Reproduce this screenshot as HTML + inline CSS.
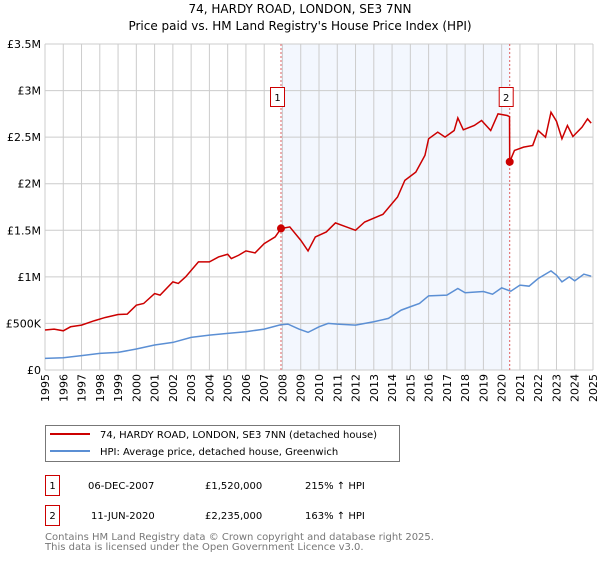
<!DOCTYPE html>
<html><head><meta charset="utf-8"><style>
body{margin:0;background:#fff;font-family:"DejaVu Sans","Liberation Sans",sans-serif;}
svg text{font-family:"DejaVu Sans","Liberation Sans",sans-serif;}
</style></head><body>
<svg id="chart" width="600" height="560" xmlns="http://www.w3.org/2000/svg">
<text x="300" y="13" text-anchor="middle" font-size="12">74, HARDY ROAD, LONDON, SE3 7NN</text>
<text x="300" y="30" text-anchor="middle" font-size="12">Price paid vs. HM Land Registry's House Price Index (HPI)</text>
<g id="plot"></g>
<g>
<rect x="45.5" y="425.5" width="354" height="36" fill="#fff" stroke="#777"/>
<line x1="50" y1="434" x2="90" y2="434" stroke="#cc0000" stroke-width="2"/>
<text x="100" y="438" font-size="10">74, HARDY ROAD, LONDON, SE3 7NN (detached house)</text>
<line x1="50" y1="451" x2="90" y2="451" stroke="#5b8fd4" stroke-width="2"/>
<text x="100" y="455" font-size="10">HPI: Average price, detached house, Greenwich</text>
</g>
<g font-size="10">
<rect x="45.5" y="475.5" width="14" height="20" fill="#fff" stroke="#cc0000"/>
<text x="52.5" y="489" text-anchor="middle">1</text>
<text x="88" y="489">06-DEC-2007</text><text x="205" y="489">£1,520,000</text><text x="305" y="489">215% ↑ HPI</text>
<rect x="45.5" y="505.5" width="14" height="20" fill="#fff" stroke="#cc0000"/>
<text x="52.5" y="519" text-anchor="middle">2</text>
<text x="91" y="519">11-JUN-2020</text><text x="205" y="519">£2,235,000</text><text x="305" y="519">163% ↑ HPI</text>
</g>
<text x="45" y="540" font-size="10" fill="#777">Contains HM Land Registry data © Crown copyright and database right 2025.</text>
<text x="45" y="550" font-size="10" fill="#777">This data is licensed under the Open Government Licence v3.0.</text>
</svg>
<script>
const yearTicks=[1995,1996,1997,1998,1999,2000,2001,2002,2003,2004,2005,2006,2007,2008,2009,2010,2011,2012,2013,2014,2015,2016,2017,2018,2019,2020,2021,2022,2023,2024,2025];
const valueTicks=[0,500000,1000000,1500000,2000000,2500000,3000000,3500000];
const valueLabels=["£0","£500K","£1M","£1.5M","£2M","£2.5M","£3M","£3.5M"];
const hpiDates=[1995,1996,1997,1998,1999,2000,2001,2002,2003,2004,2005,2006,2007,2007.9,2008.3,2008.9,2009.4,2010,2010.5,2011,2012,2013,2013.8,2014.5,2015,2015.5,2016,2017,2017.6,2018,2019,2019.5,2020,2020.5,2021,2021.5,2022,2022.7,2023,2023.3,2023.7,2024,2024.5,2024.9];
const hpiValues=[125,132,154,179,189,225,268,296,350,375,393,411,439,486,493,439,404,464,500,493,482,518,554,643,679,714,796,804,875,829,843,814,882,846,911,900,982,1064,1018,946,1000,957,1029,1007];
const priceDates=[1995,1995.5,1996,1996.4,1997,1997.7,1998.3,1999,1999.5,2000,2000.4,2001,2001.3,2002,2002.3,2002.7,2003.4,2004,2004.5,2005,2005.2,2005.6,2006,2006.5,2007,2007.6,2007.92,2008.4,2009,2009.4,2009.8,2010.4,2010.9,2011.5,2012,2012.5,2013.5,2014.3,2014.7,2015.3,2015.8,2016,2016.5,2016.9,2017.4,2017.6,2017.9,2018.5,2018.9,2019.4,2019.8,2020.3,2020.43,2020.44,2020.7,2021.2,2021.7,2022,2022.4,2022.7,2023,2023.3,2023.6,2023.9,2024.4,2024.7,2024.9];
const priceValues=[429,439,421,464,482,529,564,596,600,696,714,821,804,946,929,1000,1161,1161,1214,1243,1196,1232,1279,1257,1357,1429,1518,1536,1393,1279,1429,1482,1579,1536,1500,1589,1671,1857,2036,2125,2304,2482,2554,2500,2571,2707,2579,2625,2679,2571,2750,2732,2721,2235,2357,2393,2411,2571,2500,2768,2671,2482,2625,2507,2607,2696,2650];
const saleDates=[2007.92,2020.44];
const salePrices=[1520000,2235000];
const saleLabels=["1","2"];

const X0=45,X1=593,Y0=370,Y1=44;
const xs=d=>X0+(d-1995)/30*(X1-X0);
const ys=v=>Y0-v/3500000*(Y0-Y1);
const NS="http://www.w3.org/2000/svg";
const g=document.getElementById('plot');
function mk(t,a,p){const e=document.createElementNS(NS,t);for(const k in a)e.setAttribute(k,a[k]);(p||g).appendChild(e);return e;}

const shade=mk('rect',{x:xs(saleDates[0]),y:Y1,width:xs(saleDates[1])-xs(saleDates[0]),height:Y0-Y1,fill:'#eef3fd',opacity:0.7});


yearTicks.forEach(yr=>{
  const l=mk('line',{x1:xs(yr),x2:xs(yr),y1:Y1,y2:Y0,stroke:'#cccccc'});
  
  
  const cx=xs(yr)+4, cy=Y0+4;
  const grp=mk('g',{transform:'translate('+cx+' '+cy+') rotate(-90)'});
  const t=mk('text',{x:0,y:0,'font-size':11,'text-anchor':'end'},grp);
  t.textContent=yr;
  
  
});
valueTicks.forEach((v,i)=>{
  const l=mk('line',{x1:X0,x2:X1,y1:ys(v),y2:ys(v),stroke:'#cccccc'});
  
  
  const t=mk('text',{x:X0-4,y:ys(v)+4,'font-size':11,'text-anchor':'end'});
  t.textContent=valueLabels[i];
  
  
});
saleDates.forEach((d,i)=>{
  const l=mk('line',{x1:xs(d),x2:xs(d),y1:Y1,y2:Y0,stroke:'#e06060','stroke-dasharray':'2,2'});
  
  
});
const hp=mk('polyline',{points:hpiDates.map((d,i)=>xs(d)+','+ys(hpiValues[i]*1000)).join(' '),fill:'none',stroke:'#5b8fd4','stroke-width':1.5});


const pp=mk('polyline',{points:priceDates.map((d,i)=>xs(d)+','+ys(priceValues[i]*1000)).join(' '),fill:'none',stroke:'#cc0000','stroke-width':1.5});


saleDates.forEach((d,i)=>{
  const c=mk('circle',{cx:xs(d),cy:ys(salePrices[i]),r:4,fill:'#cc0000'});
  
  
  const r=mk('rect',{x:xs(d)-10.5,y:87.5,width:14,height:19,fill:'#fff',stroke:'#cc0000'});
  
  
  const t=mk('text',{x:xs(d)-3.5,y:101,'font-size':10,'text-anchor':'middle'});
  t.textContent=saleLabels[i];
  
  
});
</script>
</body></html>
